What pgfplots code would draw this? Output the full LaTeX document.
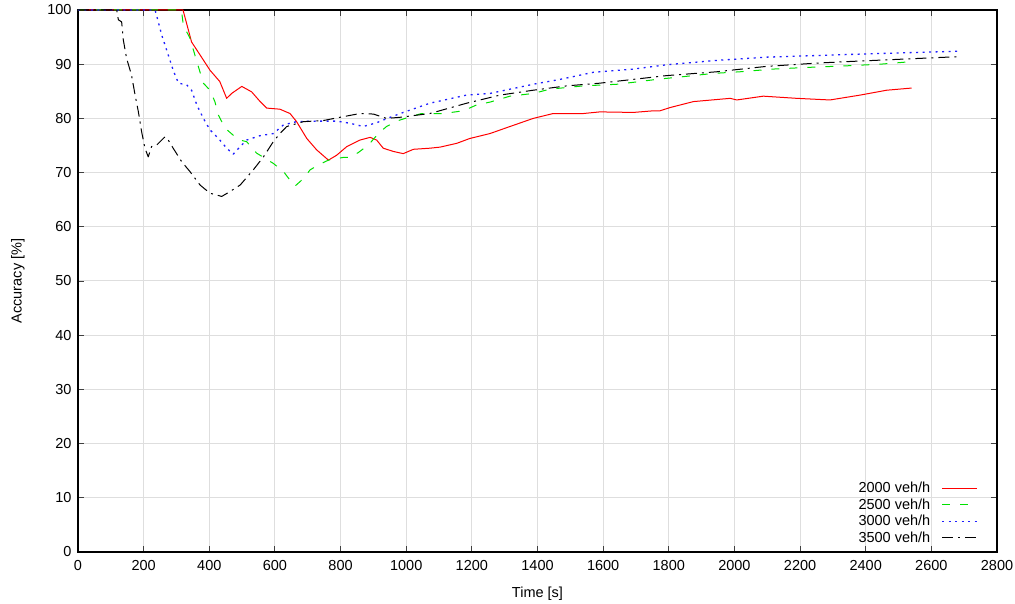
\documentclass[border=0pt]{standalone}
\usepackage{fontspec}
\setmainfont{Liberation Sans}
\usepackage{pgfplots}
\pgfplotsset{compat=1.18}

\definecolor{cRed}{RGB}{255,0,0}
\definecolor{cGreen}{RGB}{0,225,0}
\definecolor{cBlue}{RGB}{30,30,255}

\begin{document}
\begin{tikzpicture}[font=\fontsize{14.5bp}{17bp}\selectfont]
\begin{axis}[
  name=main,
  scale only axis,
  width=919bp, height=542bp,
  xmin=0, xmax=2800, ymin=0, ymax=100,
  xtick={0,200,...,2800}, ytick={0,10,...,100},
  grid=major,
  grid style={line width=1bp, black!13},
  axis line style={line width=1.1bp},
  tick style={line width=0.9bp, black!75},
  major tick length=6bp,
  /pgf/number format/assume math mode=true,
  /pgf/number format/1000 sep={},
  xticklabel style={yshift=-5bp},
  yticklabel style={xshift=-3bp},
  xlabel={Time [s]},
  ylabel={Accuracy [\%]},
  xlabel style={at={(axis description cs:0.5,-0.0765)}, anchor=center},
  ylabel style={at={(axis description cs:-0.0653,0.5)}, anchor=center},
  legend cell align=right,
  legend plot pos=right,
  legend style={draw=none, fill=none, at={(1,0)}, anchor=south east,
    xshift=-16bp, yshift=5bp, row sep=2bp,
    nodes={inner sep=1.2bp}},
  legend image code/.code={\path (0bp,0bp); \draw[#1] (10bp,0bp) -- (45bp,0bp);},
  every axis plot/.append style={line width=1bp, line join=round},
]
% 2000 veh/h
\addplot[cRed] coordinates {
(0,100) (320,100) (346,94.1) (372,91.7) (402,88.9) (432,86.8) (453,83.7)
(468,84.6) (499,85.9) (529,84.9) (555,83.1) (575,81.9) (615,81.7) (646,80.9)
(666,79.4) (697,76.3) (727,74.2) (763,72.3) (788,73.2) (819,74.8) (859,76.0)
(890,76.5) (910,76.0) (930,74.5) (961,73.9) (991,73.5) (1022,74.3) (1072,74.5)
(1103,74.7) (1154,75.4) (1194,76.3) (1255,77.2) (1316,78.5) (1387,80.0)
(1448,80.9) (1540,80.9) (1590,81.2) (1692,81.1) (1753,81.4) (1773,81.4)
(1804,82.0) (1875,83.1) (1987,83.7) (2007,83.4) (2088,84.1) (2190,83.7)
(2291,83.4) (2383,84.3) (2464,85.2) (2540,85.6)
};
\addlegendentry{2000 veh/h}
% 2500 veh/h
\addplot[cGreen, dash pattern=on 8bp off 10bp] coordinates {
(0,100) (315,100) (321,97.2) (341,94.8) (362,90.5) (382,86.5) (402,85.2)
(417,83.1) (428,80.6) (448,78.2) (473,76.9) (494,76.0) (514,75.7) (544,73.6)
(595,71.7) (626,70.2) (646,68.6) (661,67.5) (687,68.9) (707,70.5) (732,71.4)
(763,72.3) (808,72.8) (829,72.8) (854,73.7) (885,75.1) (915,77.2) (940,78.5)
(976,79.6) (1012,80.3) (1047,80.9) (1113,80.9) (1174,81.4) (1215,82.5)
(1255,83.0) (1316,84.1) (1387,84.6) (1438,85.4) (1540,86.0) (1642,86.3)
(1712,86.8) (1763,87.2) (1844,87.7) (1936,88.3) (2017,88.6) (2118,89.1)
(2220,89.4) (2342,89.7) (2444,90.0) (2545,90.5)
};
\addlegendentry{2500 veh/h}
% 3000 veh/h
\addplot[cBlue, line width=1.3bp, dash pattern=on 2bp off 4.5bp] coordinates {
(0,100) (235,100) (255,95.4) (275,91.7) (290,88.9) (306,86.5) (331,86.2)
(346,85.2) (362,82.5) (382,80.0) (402,77.9) (428,76.3) (453,74.5) (473,73.4)
(494,74.8) (514,76.0) (554,76.8) (595,77.2) (626,78.8) (666,79.4) (727,79.5)
(788,79.5) (829,79.1) (869,78.5) (910,79.2) (951,80.2) (991,81.1) (1072,82.8)
(1184,84.3) (1255,84.6) (1387,86.3) (1469,87.2) (1570,88.5) (1692,89.1)
(1794,89.9) (1946,90.7) (2098,91.3) (2251,91.6) (2352,91.8) (2403,91.9)
(2686,92.4)
};
\addlegendentry{3000 veh/h}
% 3500 veh/h
\addplot[black, dash pattern=on 11bp off 5bp on 2bp off 5bp] coordinates {
(0,100) (118,100) (123,98.2) (133,97.8) (138,94.5) (148,91.1) (163,88.0)
(174,84.3) (184,81.2) (194,77.5) (204,74.5) (214,72.9) (224,74.8) (240,75.1)
(265,76.6) (275,76.0) (290,74.5) (316,72.0) (341,70.2) (372,67.7) (402,66.2)
(438,65.6) (463,66.5) (494,67.7) (534,70.5) (565,72.9) (595,75.7) (615,77.2)
(636,78.5) (687,79.4) (747,79.6) (798,80.2) (859,80.9) (900,80.8) (940,80.0)
(981,80.2) (1072,80.9) (1184,82.8) (1286,84.3) (1387,85.2) (1489,86.0)
(1590,86.5) (1692,87.2) (1794,87.9) (1946,88.6) (2098,89.6) (2251,90.2)
(2352,90.5) (2686,91.4)
};
\addlegendentry{3500 veh/h}
\end{axis}
\pgfresetboundingbox
\path[use as bounding box] ([shift={(-78bp,-52bp)}]main.south west)
  rectangle ([shift={(18bp,10bp)}]main.north east);
\end{tikzpicture}
\end{document}
